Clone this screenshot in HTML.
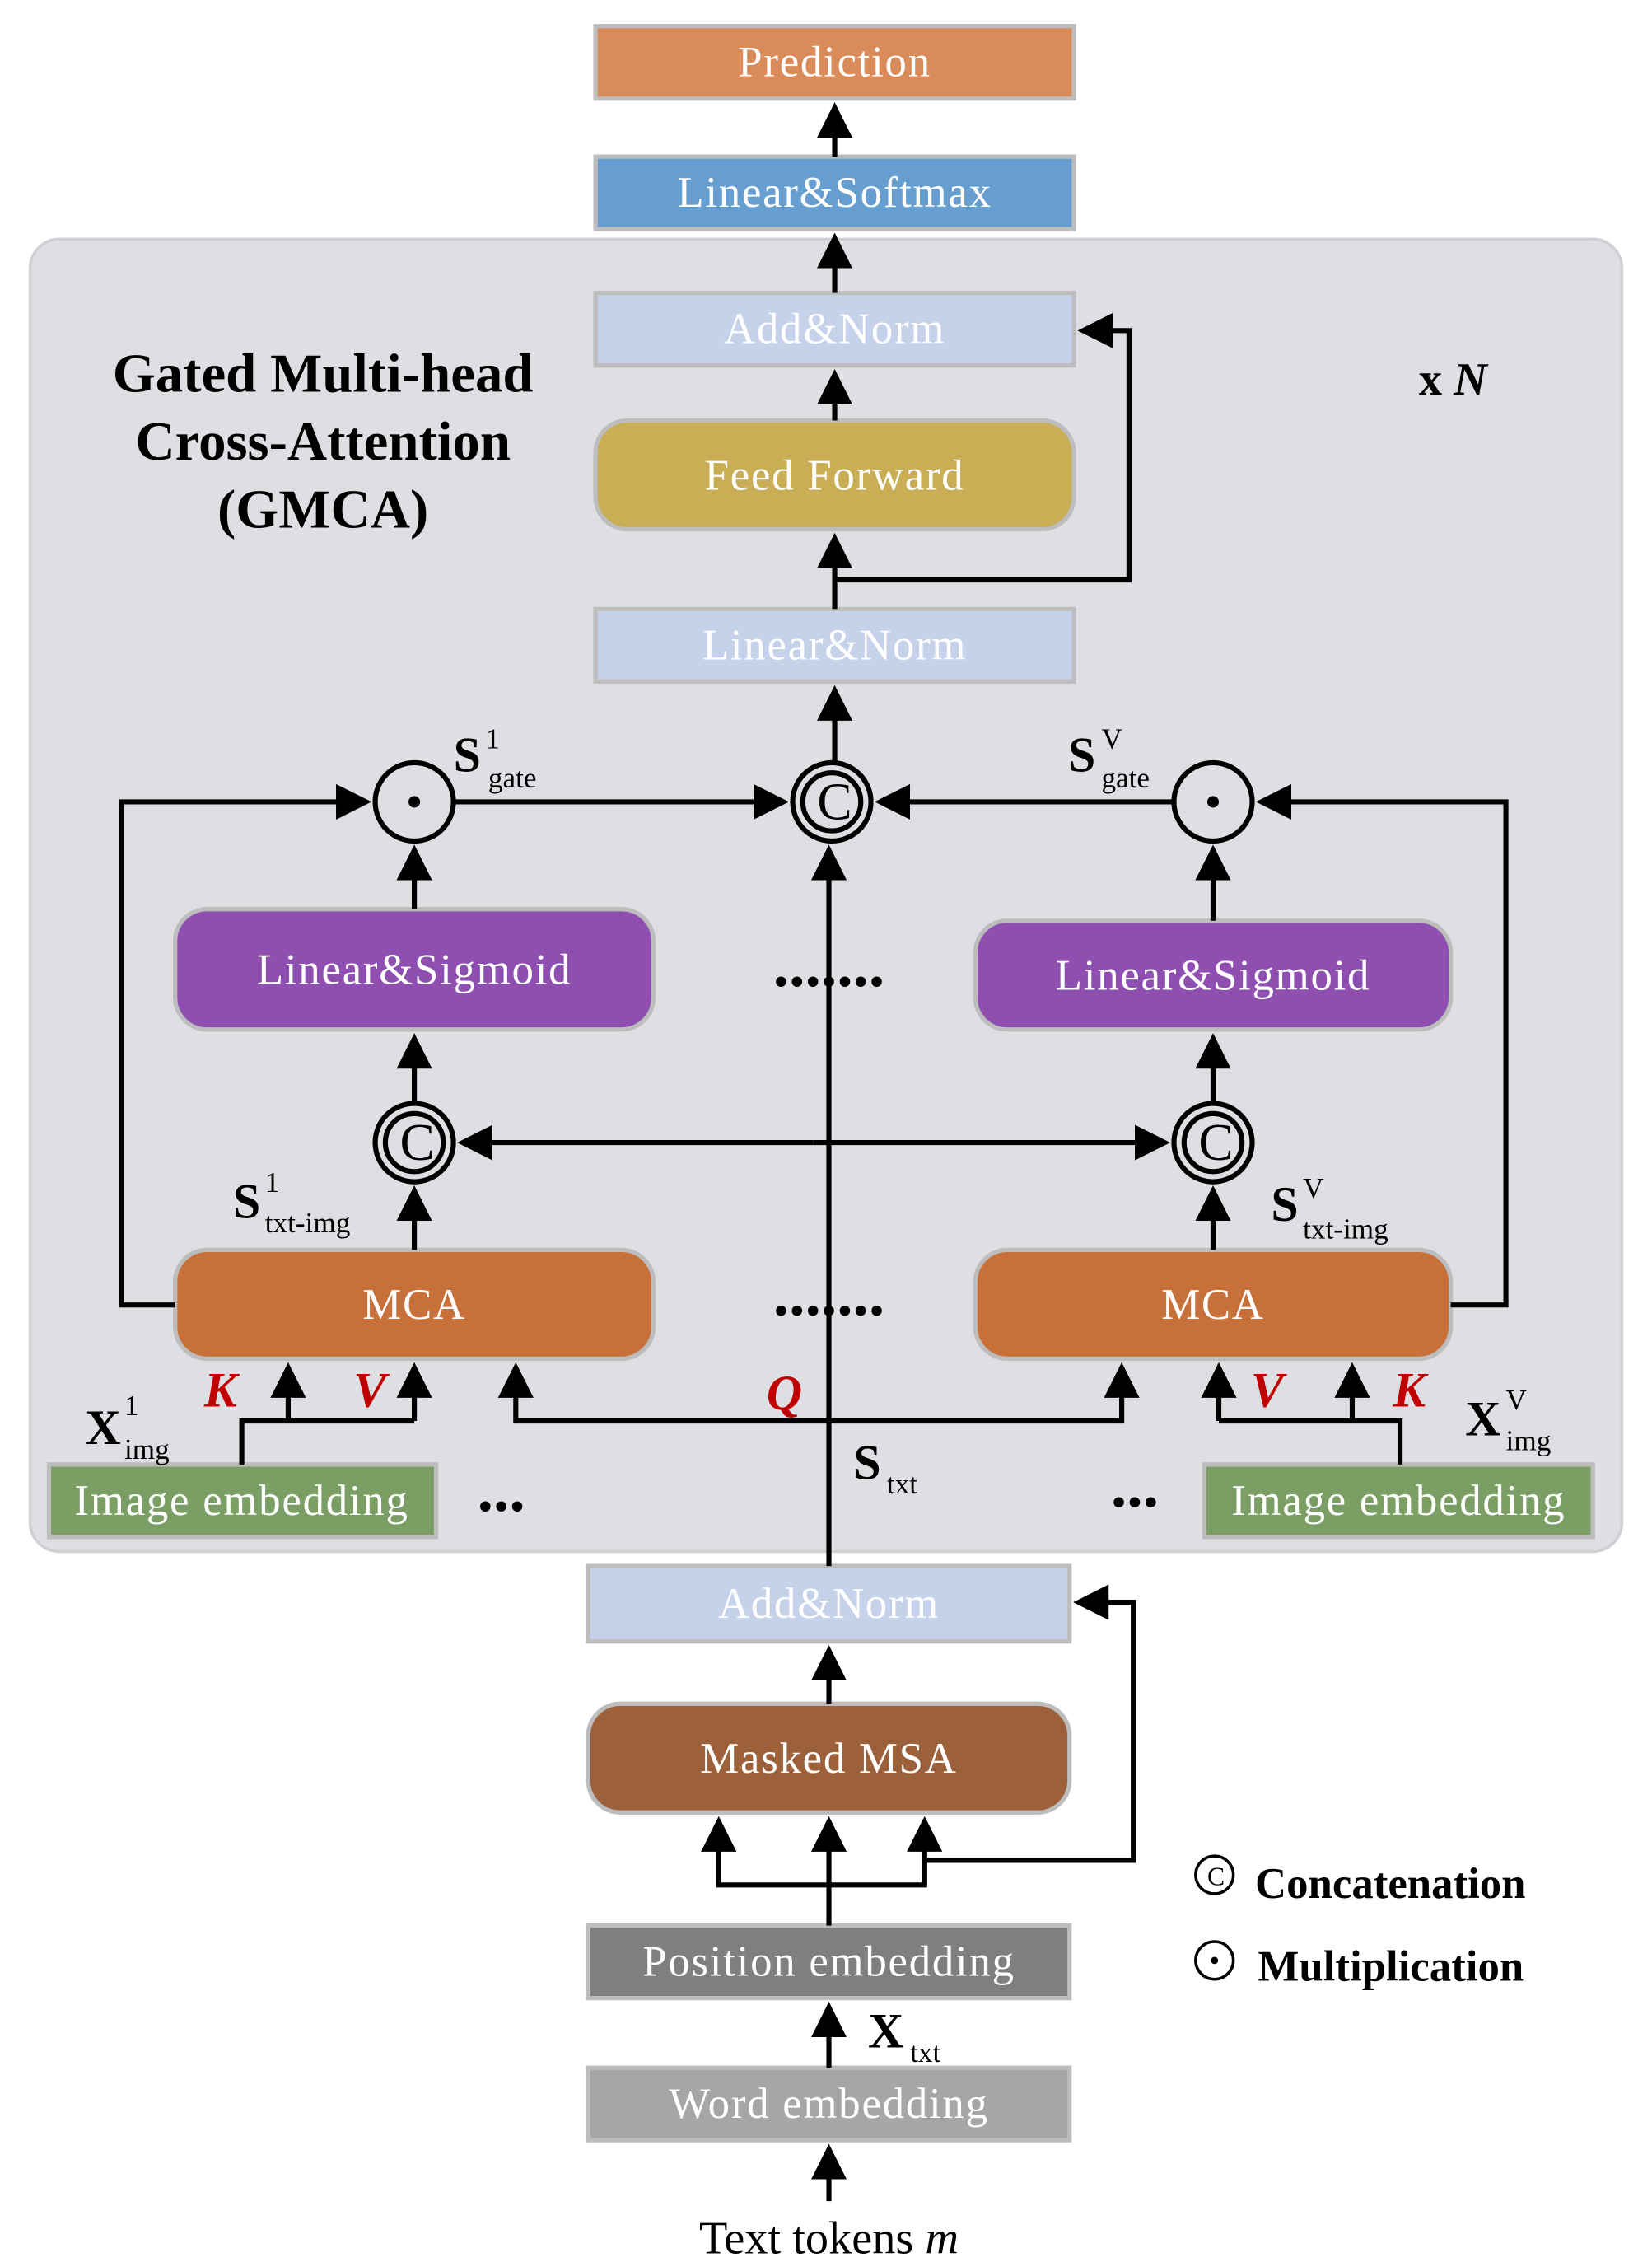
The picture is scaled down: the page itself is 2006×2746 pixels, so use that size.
<!DOCTYPE html>
<html><head><meta charset="utf-8"><style>
html,body{margin:0;padding:0;background:#fff}
svg{display:block}
text{font-family:"Liberation Serif",serif}
.bt{fill:#fff;font-size:30px;text-anchor:middle;dominant-baseline:central;letter-spacing:1px}
.l{stroke:#000;stroke-width:3.5;fill:none}
.lb{font-size:38px;font-weight:bold}
.sub{font-size:20px}
.red{fill:#C00000;font-style:italic;font-weight:bold;font-size:34px}
</style></head><body>
<svg width="2006" height="2746" viewBox="0 0 1138 1560" xmlns="http://www.w3.org/2000/svg">
<defs><marker id="a" markerWidth="8" markerHeight="8" refX="6" refY="4" orient="auto" markerUnits="strokeWidth"><path d="M0,0.5 L7,4 L0,7.5 Z" fill="#000"/></marker></defs>
<rect x="20" y="165" width="1098" height="905" rx="20" fill="#DEDFE3" stroke="#cfd0d4" stroke-width="2"/>
<g stroke="#bdbdbd" stroke-width="3">
<rect x="410" y="18" width="330" height="50" fill="#D98B5A"/>
<rect x="410" y="108" width="330" height="50" fill="#659ECF"/>
<rect x="410" y="202" width="330" height="50" fill="#C5D2EA"/>
<rect x="410" y="290" width="330" height="75" rx="22" fill="#C9AE55"/>
<rect x="410" y="420" width="330" height="50" fill="#C5D2EA"/>
<rect x="120" y="627" width="330" height="83" rx="22" fill="#8E4FB0"/>
<rect x="672" y="635" width="328" height="75" rx="22" fill="#8E4FB0"/>
<rect x="120" y="862" width="330" height="75" rx="22" fill="#C8703A"/>
<rect x="672" y="862" width="328" height="75" rx="22" fill="#C8703A"/>
<rect x="33" y="1010" width="267" height="50" fill="#7A9E64"/>
<rect x="830" y="1010" width="268" height="50" fill="#7A9E64"/>
<rect x="405" y="1080" width="332" height="52" fill="#C5D2EA"/>
<rect x="405" y="1175" width="332" height="75" rx="22" fill="#9C603A"/>
<rect x="405" y="1328" width="332" height="50" fill="#7F7F7F"/>
<rect x="405" y="1426" width="332" height="50" fill="#A6A6A6"/>
</g>
<text class="bt" x="575" y="43">Prediction</text>
<text class="bt" x="575" y="133">Linear&amp;Softmax</text>
<text class="bt" x="575" y="227">Add&amp;Norm</text>
<text class="bt" x="575" y="328">Feed Forward</text>
<text class="bt" x="575" y="445">Linear&amp;Norm</text>
<text class="bt" x="285" y="669">Linear&amp;Sigmoid</text>
<text class="bt" x="836" y="673">Linear&amp;Sigmoid</text>
<text class="bt" x="285" y="900">MCA</text>
<text class="bt" x="836" y="900">MCA</text>
<text class="bt" x="166" y="1035">Image embedding</text>
<text class="bt" x="964" y="1035">Image embedding</text>
<text class="bt" x="571" y="1106">Add&amp;Norm</text>
<text class="bt" x="571" y="1213">Masked MSA</text>
<text class="bt" x="571" y="1353">Position embedding</text>
<text class="bt" x="571" y="1451">Word embedding</text>
<g stroke="#000" stroke-width="3.5" fill="none">
<circle cx="285" cy="553" r="27"/><circle cx="836" cy="553" r="27"/>
<circle cx="573" cy="553" r="27"/><circle cx="573" cy="553" r="20"/>
<circle cx="285" cy="788" r="27"/><circle cx="285" cy="788" r="20"/>
<circle cx="836" cy="788" r="27"/><circle cx="836" cy="788" r="20"/>
</g>
<circle cx="285" cy="553" r="4" fill="#000"/><circle cx="836" cy="553" r="4" fill="#000"/>
<g font-size="36" text-anchor="middle" dominant-baseline="central"><text x="575" y="553">C</text><text x="287" y="788">C</text><text x="838" y="788">C</text></g>
<g class="l">
<line x1="575" y1="108" x2="575" y2="74" marker-end="url(#a)"/>
<line x1="575" y1="202" x2="575" y2="164" marker-end="url(#a)"/>
<line x1="575" y1="290" x2="575" y2="258" marker-end="url(#a)"/>
<line x1="575" y1="420" x2="575" y2="371" marker-end="url(#a)"/>
<polyline points="575,400 778,400 778,228 746,228" marker-end="url(#a)"/>
<line x1="575" y1="525" x2="575" y2="476" marker-end="url(#a)"/>
<polyline points="120,900 83,900 83,553 252,553" marker-end="url(#a)"/>
<line x1="313" y1="553" x2="540" y2="553" marker-end="url(#a)"/>
<line x1="808" y1="553" x2="606" y2="553" marker-end="url(#a)"/>
<polyline points="1000,900 1038,900 1038,553 869,553" marker-end="url(#a)"/>
<line x1="285" y1="627" x2="285" y2="586" marker-end="url(#a)"/>
<line x1="285" y1="761" x2="285" y2="716" marker-end="url(#a)"/>
<line x1="285" y1="862" x2="285" y2="821" marker-end="url(#a)"/>
<line x1="836" y1="635" x2="836" y2="586" marker-end="url(#a)"/>
<line x1="836" y1="761" x2="836" y2="716" marker-end="url(#a)"/>
<line x1="836" y1="862" x2="836" y2="821" marker-end="url(#a)"/>
<line x1="560" y1="788" x2="318" y2="788" marker-end="url(#a)"/>
<line x1="560" y1="788" x2="803" y2="788" marker-end="url(#a)"/>
<line x1="571" y1="1080" x2="571" y2="586" marker-end="url(#a)"/>
<polyline points="571,980 355,980 355,943" marker-end="url(#a)"/>
<polyline points="571,980 773,980 773,943" marker-end="url(#a)"/>
<polyline points="166,1010 166,980 285,980"/>
<line x1="198" y1="980" x2="198" y2="943" marker-end="url(#a)"/>
<line x1="285" y1="980" x2="285" y2="943" marker-end="url(#a)"/>
<polyline points="965,1010 965,980 840,980"/>
<line x1="840" y1="980" x2="840" y2="943" marker-end="url(#a)"/>
<line x1="932" y1="980" x2="932" y2="943" marker-end="url(#a)"/>
<line x1="571" y1="1175" x2="571" y2="1138" marker-end="url(#a)"/>
<line x1="571" y1="1328" x2="571" y2="1256" marker-end="url(#a)"/>
<polyline points="495,1256 495,1300 637,1300 637,1256"/>
<line x1="495" y1="1300" x2="495" y2="1256" marker-end="url(#a)"/>
<line x1="637" y1="1300" x2="637" y2="1256" marker-end="url(#a)"/>
<polyline points="637,1283 781,1283 781,1105 743,1105" marker-end="url(#a)"/>
<line x1="571" y1="1426" x2="571" y2="1384" marker-end="url(#a)"/>
<line x1="571" y1="1518" x2="571" y2="1482" marker-end="url(#a)"/>
</g>
<g class="lb" text-anchor="middle"><text x="222" y="270">Gated Multi-head</text><text x="222" y="317">Cross-Attention</text><text x="222" y="364">(GMCA)</text></g>
<text x="978" y="272" font-weight="bold" font-size="32">x <tspan font-style="italic">N</tspan></text>
<g font-size="34" font-weight="bold" fill="#000">
<text x="312" y="532">S</text><text x="736" y="532">S</text>
<text x="160" y="840">S</text><text x="876" y="842">S</text>
<text x="58" y="996">X</text><text x="1010" y="990">X</text>
<text x="588" y="1020">S</text><text x="598" y="1412">X</text>
</g>
<g class="sub">
<text x="334" y="516">1</text><text x="336" y="543">gate</text>
<text x="759" y="516">V</text><text x="759" y="543">gate</text>
<text x="182" y="822">1</text><text x="182" y="850">txt-img</text>
<text x="898" y="826">V</text><text x="898" y="854">txt-img</text>
<text x="85" y="976">1</text><text x="85" y="1006">img</text>
<text x="1038" y="972">V</text><text x="1038" y="1000">img</text>
<text x="611" y="1030">txt</text><text x="627" y="1422">txt</text>
</g>
<text class="red" x="140" y="970">K</text><text class="red" x="243" y="970">V</text>
<text class="red" x="528" y="972">Q</text>
<text class="red" x="862" y="970">V</text><text class="red" x="960" y="970">K</text>
<g font-size="44" font-weight="bold" text-anchor="middle"><text x="571" y="680">.......</text><text x="571" y="907">.......</text><text x="345" y="1042">...</text><text x="782" y="1039">...</text></g>
<text x="571" y="1554" font-size="32" text-anchor="middle">Text tokens <tspan font-style="italic">m</tspan></text>
<circle cx="837" cy="1293" r="13" fill="none" stroke="#000" stroke-width="2"/><text x="838" y="1294" font-size="18" text-anchor="middle" dominant-baseline="central">C</text>
<circle cx="837" cy="1352" r="13" fill="none" stroke="#000" stroke-width="2"/><circle cx="837" cy="1352" r="2.5"/>
<text x="865" y="1309" font-size="30" font-weight="bold">Concatenation</text>
<text x="867" y="1366" font-size="30" font-weight="bold">Multiplication</text>
</svg>
</body></html>
